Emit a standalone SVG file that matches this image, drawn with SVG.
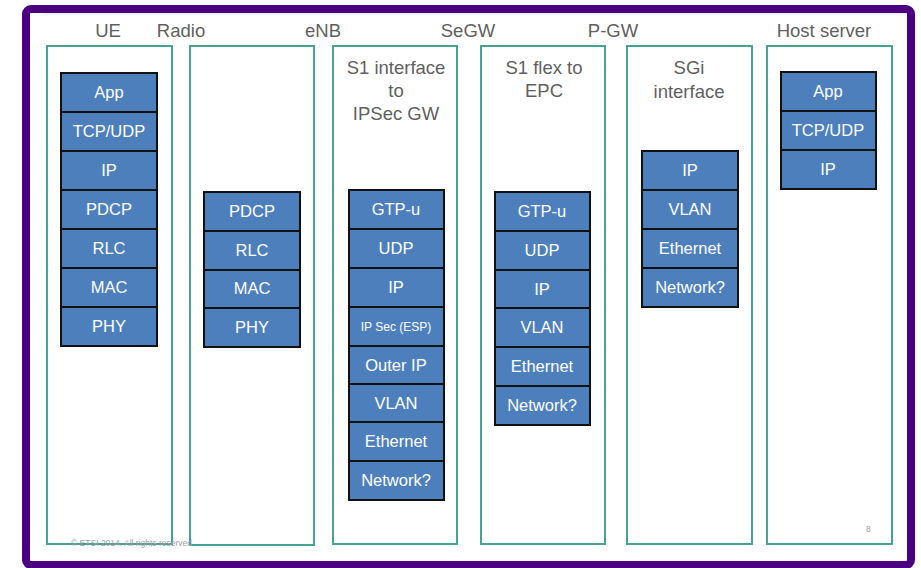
<svg xmlns="http://www.w3.org/2000/svg" width="921" height="568" viewBox="0 0 921 568">
<style>
.frame{fill:#fff;stroke:#4b0082;stroke-width:8}
.col{fill:#fff;stroke:#45a294;stroke-width:2}
.hdr{font-family:"Liberation Sans",Arial,sans-serif;font-size:18.5px;fill:#5f5f5f;text-anchor:middle}
.ttl{font-family:"Liberation Sans",Arial,sans-serif;font-size:18.5px;fill:#5f5f5f;text-anchor:middle}
.lay rect{fill:#4d7fbd;stroke:#111;stroke-width:2}
.lay text{font-family:"Liberation Sans",Arial,sans-serif;font-size:16.5px;fill:#fff;text-anchor:middle}
.lay text.sm{font-size:12px}
.foot{font-family:"Liberation Sans",Arial,sans-serif;font-size:8.5px;fill:#a0a0a0}
</style>
<rect class="frame" x="26" y="9" width="885" height="556" rx="5"/>
<line x1="43" y1="14" x2="905" y2="14" stroke="#e6e6e6" stroke-width="1"/>
<g id="headers">
<text class="hdr" x="108" y="37">UE</text>
<text class="hdr" x="181" y="37">Radio</text>
<text class="hdr" x="323" y="37">eNB</text>
<text class="hdr" x="468" y="37">SeGW</text>
<text class="hdr" x="613" y="37">P-GW</text>
<text class="hdr" x="824" y="37">Host server</text>
</g>
<g id="col-ue">
<rect class="col" x="47" y="46" width="125" height="498"/>
<g class="lay">
<rect x="61" y="73" width="96" height="39"/><text x="109" y="98">App</text>
<rect x="61" y="112" width="96" height="39"/><text x="109" y="137">TCP/UDP</text>
<rect x="61" y="151" width="96" height="39"/><text x="109" y="176">IP</text>
<rect x="61" y="190" width="96" height="39"/><text x="109" y="215">PDCP</text>
<rect x="61" y="229" width="96" height="39"/><text x="109" y="254">RLC</text>
<rect x="61" y="268" width="96" height="39"/><text x="109" y="293">MAC</text>
<rect x="61" y="307" width="96" height="39"/><text x="109" y="332">PHY</text>
</g>
</g>
<g id="col-enb">
<rect class="col" x="190" y="46" width="124" height="499"/>
<g class="lay">
<rect x="204" y="192" width="96" height="39"/><text x="252" y="217">PDCP</text>
<rect x="204" y="231" width="96" height="39"/><text x="252" y="256">RLC</text>
<rect x="204" y="270" width="96" height="38"/><text x="252" y="294">MAC</text>
<rect x="204" y="308" width="96" height="39"/><text x="252" y="333">PHY</text>
</g>
</g>
<g id="col-s1">
<rect class="col" x="333" y="46" width="124" height="498"/>
<text class="ttl" x="396" y="74">S1 interface</text>
<text class="ttl" x="396" y="97">to</text>
<text class="ttl" x="396" y="120">IPSec GW</text>
<g class="lay">
<rect x="349" y="190" width="95" height="39"/><text x="396" y="215">GTP-u</text>
<rect x="349" y="229" width="95" height="39"/><text x="396" y="254">UDP</text>
<rect x="349" y="268" width="95" height="39"/><text x="396" y="293">IP</text>
<rect x="349" y="307" width="95" height="39"/><text class="sm" x="396" y="331">IP Sec (ESP)</text>
<rect x="349" y="346" width="95" height="38"/><text x="396" y="371">Outer IP</text>
<rect x="349" y="384" width="95" height="38"/><text x="396" y="409">VLAN</text>
<rect x="349" y="422" width="95" height="39"/><text x="396" y="447">Ethernet</text>
<rect x="349" y="461" width="95" height="39"/><text x="396" y="486">Network?</text>
</g>
</g>
<g id="col-s1flex">
<rect class="col" x="481" y="46" width="124" height="498"/>
<text class="ttl" x="544" y="74">S1 flex to</text>
<text class="ttl" x="544" y="97">EPC</text>
<g class="lay">
<rect x="495" y="192" width="95" height="39"/><text x="542" y="217">GTP-u</text>
<rect x="495" y="231" width="95" height="39"/><text x="542" y="256">UDP</text>
<rect x="495" y="270" width="95" height="38"/><text x="542" y="295">IP</text>
<rect x="495" y="308" width="95" height="39"/><text x="542" y="333">VLAN</text>
<rect x="495" y="347" width="95" height="39"/><text x="542" y="372">Ethernet</text>
<rect x="495" y="386" width="95" height="39"/><text x="542" y="411">Network?</text>
</g>
</g>
<g id="col-sgi">
<rect class="col" x="627" y="46" width="125" height="498"/>
<text class="ttl" x="689" y="74">SGi</text>
<text class="ttl" x="689" y="98">interface</text>
<g class="lay">
<rect x="642" y="151" width="96" height="39"/><text x="690" y="176">IP</text>
<rect x="642" y="190" width="96" height="39"/><text x="690" y="215">VLAN</text>
<rect x="642" y="229" width="96" height="39"/><text x="690" y="254">Ethernet</text>
<rect x="642" y="268" width="96" height="39"/><text x="690" y="293">Network?</text>
</g>
</g>
<g id="col-host">
<rect class="col" x="767" y="46" width="125" height="498"/>
<g class="lay">
<rect x="781" y="72" width="95" height="39"/><text x="828" y="97">App</text>
<rect x="781" y="111" width="95" height="39"/><text x="828" y="136">TCP/UDP</text>
<rect x="781" y="150" width="95" height="39"/><text x="828" y="175">IP</text>
</g>
</g>
<g id="connectors"></g>
<text class="foot" x="71" y="546">© ETSI 2014. All rights reserved</text>
<text class="foot" x="866" y="532">8</text>
</svg>
